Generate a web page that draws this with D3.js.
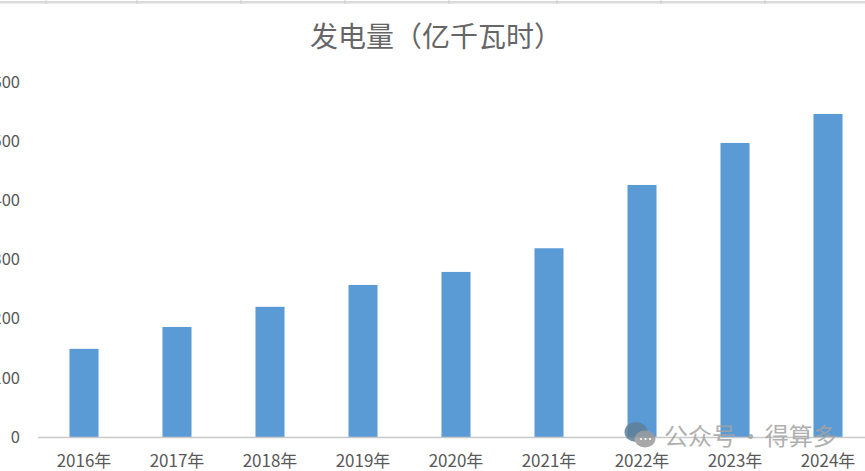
<!DOCTYPE html>
<html lang="zh">
<head>
<meta charset="utf-8">
<script src="https://cdn.jsdelivr.net/npm/d3@7"></script>
<style>
html,body{margin:0;padding:0;background:#fff;overflow:hidden}
svg{display:block}
text{font-family:"Noto Sans CJK SC","Noto Sans",sans-serif}
</style>
</head>
<body>
<svg id="chart" width="865" height="471"></svg>
<script>
// Annual power generation, 100 million kWh
const years = ["2016年","2017年","2018年","2019年","2020年","2021年","2022年","2023年","2024年"];
const generation = [149, 186, 220, 257, 279, 319, 426, 497, 546];
const yTicks = [0, 100, 200, 300, 400, 500, 600];
const chartTitle = "发电量（亿千瓦时）";
const footerMark = "公众号 · 得算多";
const headerCuts = [46, 137, 241, 345, 449, 557, 661, 765];

const svg = d3.select("#chart");
const x = d3.scaleBand().domain(years).range([37.5, 874.5]).paddingInner(0.688).paddingOuter(0.344);
const y = d3.scaleLinear().domain([0, 600]).range([437, 82]);

// Sheet edge along the top, with its small column separators
svg.append("rect").attr("x", 0).attr("y", 1).attr("width", 865).attr("height", 2.5).attr("fill", "#dadada");
svg.selectAll("line.cut").data(headerCuts).join("line").attr("class", "cut")
  .attr("x1", d => d).attr("x2", d => d).attr("y1", 0).attr("y2", 4)
  .attr("stroke", "#d0d0d0");

svg.append("text").attr("x", 310).attr("y", 47)
  .attr("font-size", 28).attr("fill", "#666666")
  .text(chartTitle);

// Value axis: labels only
const yAxis = svg.append("g").attr("transform", "translate(20,0)")
  .call(d3.axisLeft(y).tickValues(yTicks).tickSize(0).tickPadding(0));
yAxis.select(".domain").remove();
yAxis.selectAll("text").attr("font-size", 16.5).attr("fill", "#595959");

svg.selectAll("rect.bar").data(years).join("rect").attr("class", "bar")
  .attr("x", d => x(d))
  .attr("width", x.bandwidth())
  .attr("y", (d, i) => y(generation[i]))
  .attr("height", (d, i) => y(0) - y(generation[i]))
  .attr("fill", "#5b9bd5");

// Category axis
const xAxis = svg.append("g").attr("transform", `translate(0,${y(0)})`)
  .call(d3.axisBottom(x).tickSize(0).tickPadding(18));
xAxis.select(".domain").attr("stroke", "#c9c9c9").attr("stroke-width", 1.5);
xAxis.selectAll("text").attr("font-size", 17).attr("fill", "#595959");

// Account mark over the lower right corner
const mark = svg.append("g").attr("opacity", 0.85);
mark.append("ellipse").attr("cx", 636).attr("cy", 432).attr("rx", 11.5).attr("ry", 10).attr("fill", "#5f7f99");
mark.append("ellipse").attr("cx", 645).attr("cy", 439).attr("rx", 10.5).attr("ry", 8.5).attr("fill", "#9a9a9a");
mark.selectAll("circle").data([641, 645.5, 650]).join("circle")
  .attr("cx", d => d).attr("cy", 439).attr("r", 1.1).attr("fill", "#fff");
mark.append("text").attr("x", 664).attr("y", 445)
  .attr("font-size", 24).attr("fill", "#a3a3a3").attr("word-spacing", -3)
  .text(footerMark);
</script>
</body>
</html>
